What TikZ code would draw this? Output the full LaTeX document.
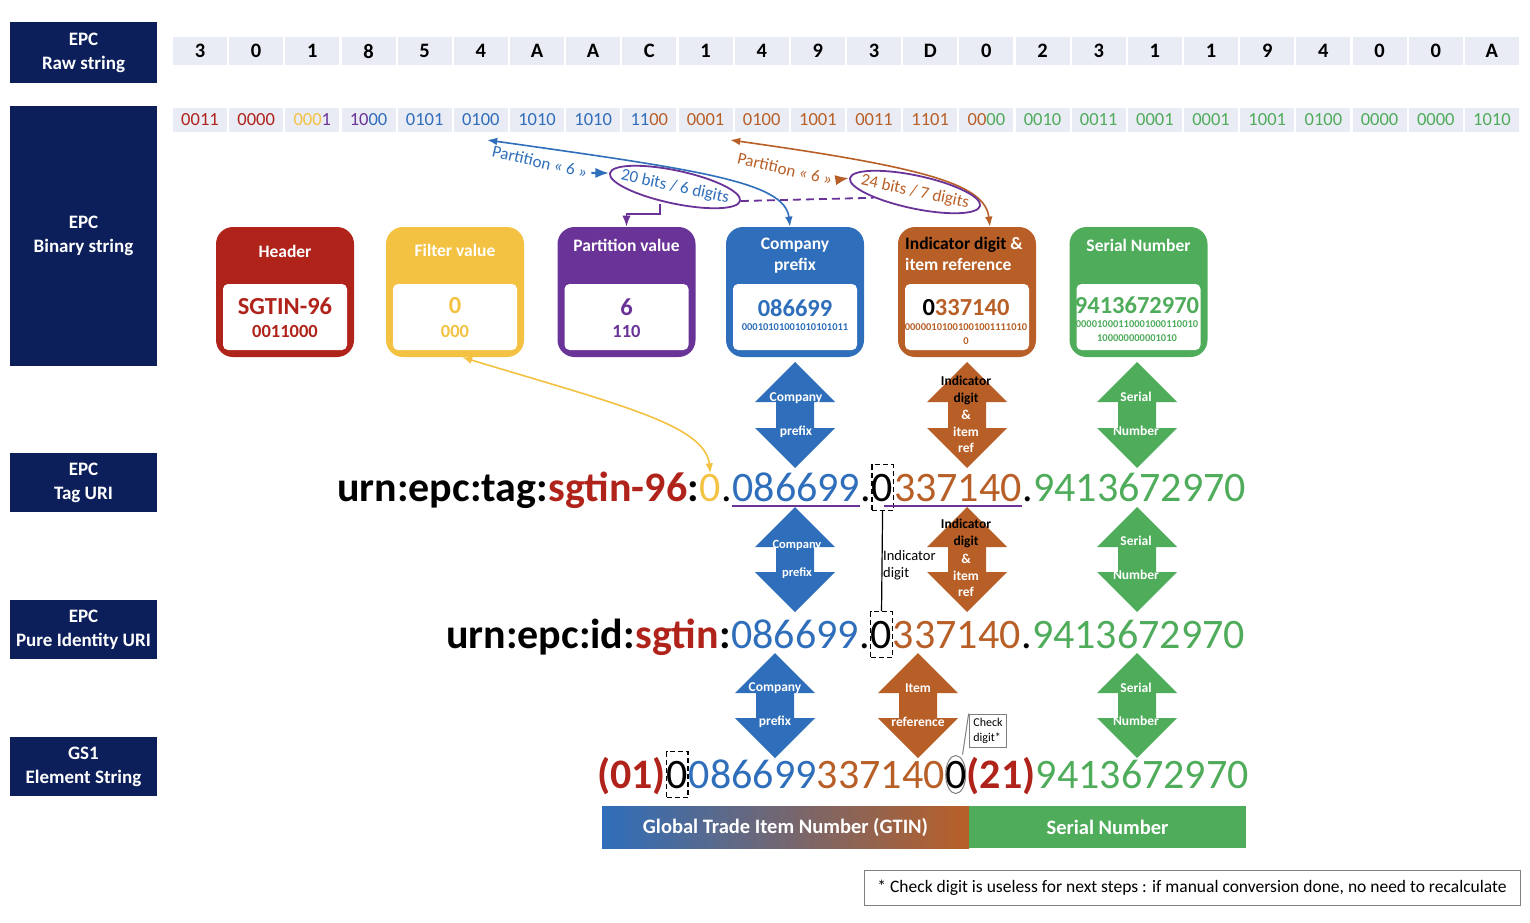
\documentclass[tikz,border=0pt]{standalone}
\usepackage{fontspec}
\setmainfont{Carlito}
\usepackage{xcolor}
\usepackage{tikz}
\usetikzlibrary{arrows.meta,shapes.geometric,positioning}

\definecolor{navy}{HTML}{0C1F5B}
\definecolor{cellgray}{HTML}{E9EBF5}
\definecolor{hred}{HTML}{B0231A}
\definecolor{hyel}{HTML}{F4C242}
\definecolor{hpur}{HTML}{6A3398}
\definecolor{hblu}{HTML}{2F6EBA}
\definecolor{hora}{HTML}{B85F27}
\definecolor{hgrn}{HTML}{4FAC5B}
\definecolor{hmid}{HTML}{8E6890}

\newcommand{\fs}[2]{\fontsize{#1}{#2}\selectfont}
\newcommand{\hR}[1]{\textcolor{hred}{#1}}
\newcommand{\hY}[1]{\textcolor{hyel}{#1}}
\newcommand{\hP}[1]{\textcolor{hpur}{#1}}
\newcommand{\hB}[1]{\textcolor{hblu}{#1}}
\newcommand{\hO}[1]{\textcolor{hora}{#1}}
\newcommand{\hG}[1]{\textcolor{hgrn}{#1}}
% up-down block arrow: centre x, top y, bottom y, colour
\newcommand{\updown}[4]{\fill[#4] (#1,#2) -- ++(40,40) -- ++(-21,0) -- (#1+19,#3-40) -- ++(21,0) -- (#1,#3) -- ++(-40,-40) -- ++(21,0) -- (#1-19,#2+40) -- ++(-21,0) -- cycle;}

\begin{document}
\begin{tikzpicture}[x=1pt,y=-1pt,
	lab/.style={fill=navy,text=white,font=\bfseries\fs{19}{24},align=center,minimum width=147,inner sep=0},
	rawcell/.style={fill=cellgray,minimum width=54,minimum height=28,inner sep=0,font=\bfseries\fs{20.5}{20}},
	bincell/.style={fill=cellgray,minimum width=54,minimum height=24,inner sep=0,font=\fs{18.5}{18}},
	card/.style={fill=#1,rounded corners=17,minimum width=138,minimum height=130,inner sep=0},
	inbox/.style={fill=white,rounded corners=5,minimum width=124,minimum height=66,inner sep=0},
	ctitle/.style={text=white,font=\bfseries\fs{17.5}{21},align=center,inner sep=0},
	bigval/.style={font=\bfseries\fs{24.5}{24},inner sep=0},
	binval/.style={font=\bfseries\fs{18.5}{18},inner sep=0},
	tinyval/.style={font=\bfseries\fs{10.5}{14},align=center,inner sep=0},
	seg/.style={anchor=base west,inner sep=0,font=\fs{42}{42}},
	segb/.style={seg,font=\bfseries\fs{42}{42}},
	dbox/.style={draw,dash pattern=on 5pt off 3pt,line width=1.2,inner ysep=9},
	arrtxt/.style={text=white,font=\bfseries\fs{13.5}{16.5},align=center,inner sep=0},
	ellnote/.style={ellipse,draw=hpur,line width=1.8,rotate=-12,font=\fs{17}{16},inner xsep=-8,inner ysep=0,minimum height=33},
	ptxt/.style={font=\fs{17}{16},rotate=-13,inner sep=0}]
	\useasboundingbox (0,0) rectangle (1530,922);
	% row labels
	\node[lab,minimum height=61] (lraw) at (83.5,52.5) {EPC\\Raw string};
	\node[lab,minimum height=260] (lbin) at (83.5,236) {EPC\\Binary string};
	\node[lab,minimum height=59] (ltag) at (83.5,482.5) {EPC\\Tag URI};
	\node[lab,minimum height=59] (lpure) at (83.5,629.5) {EPC\\Pure Identity URI};
	\node[lab,minimum height=59] (lgs) at (83.5,766.5) {GS1\\Element String};
	% raw string
	\foreach \c [count=\i from 0] in {3,0,1,8,5,4,A,A,C,1,4,9,3,D,0,2,3,1,1,9,4,0,0,A}
	\node[rawcell] (r\i) at (200+56.17*\i,51) {\c};
	% binary string
	\foreach \b [count=\i from 0] in {{\hR{0011}},{\hR{0000}},{\hY{000}\hP{1}},{\hP{10}\hB{00}},{\hB{0101}},{\hB{0100}},{\hB{1010}},{\hB{1010}},{\hB{11}\hO{00}},{\hO{0001}},{\hO{0100}},{\hO{1001}},{\hO{0011}},{\hO{1101}},{\hO{00}\hG{00}},{\hG{0010}},{\hG{0011}},{\hG{0001}},{\hG{0001}},{\hG{1001}},{\hG{0100}},{\hG{0000}},{\hG{0000}},{\hG{1010}}}
	\node[bincell] (b\i) at (200+56.17*\i,120) {\b};
	% cards
	\foreach \n/\cx/\col in {hd/285/hred,fv/455/hyel,pv/626.5/hpur,cp/795/hblu,ir/967/hora,sn/1138.5/hgrn}{
		\node[card=\col] (\n) at (\cx,292) {};
		\node[inbox] (\n-in) at (\cx,317) {};
	}
	\node[ctitle] (hd-t) at (285,251) {Header};
	\node[ctitle] (fv-t) at (455,250) {Filter value};
	\node[ctitle] (pv-t) at (626.5,245) {Partition value};
	\node[ctitle] (cp-t) at (795,255.5) {Company\\prefix};
	\node[ctitle,align=left,anchor=west] (ir-t) at (905,254) {\textcolor{black}{Indicator digit} \&\\item reference};
	\node[ctitle] (sn-t) at (1138.5,245) {Serial Number};
	\node[bigval,text=hred] (hd-v) at (285,306) {SGTIN-96};
	\node[binval,text=hred] (hd-b) at (285,331) {0011000};
	\node[bigval,text=hyel] (fv-v) at (455,306) {0};
	\node[binval,text=hyel] (fv-b) at (455,331) {000};
	\node[bigval,text=hpur] (pv-v) at (626.5,307) {6};
	\node[binval,text=hpur] (pv-b) at (626.5,331) {110};
	\node[bigval,text=hblu] (cp-v) at (795,308) {086699};
	\node[tinyval,text=hblu] (cp-b) at (795,327) {00010101001010101011};
	\node[bigval,text=hora] (ir-v) at (966,308) {\textcolor{black}{0}337140};
	\node[tinyval,text=hora] (ir-b) at (966,334) {00000101001001001111010\\0};
	\node[bigval,text=hgrn] (sn-v) at (1137,305) {9413672970};
	\node[tinyval,text=hgrn] (sn-b) at (1137,331.5) {00001000110001000110010\\100000000001010};
	% partition notes
	\coordinate (cpfrom) at (487,140);
	\coordinate (irfrom) at (730,140);
	\draw[hblu,line width=1.6,{Latex}-{Latex}] (cpfrom) .. controls (700,170) and (785,182) .. ([xshift=-5]cp.north);
	\draw[hora,line width=1.6,{Latex}-{Latex}] (irfrom) .. controls (930,168) and (985,185) .. ([xshift=23]ir.north);
	\node[ellnote,text=hblu] (e1) at (675,187) {20 bits / 6 digits};
	\node[ellnote,text=hora] (e2) at (915,192) {24 bits / 7 digits};
	\node[ptxt,text=hblu] (p1) at (540,162) {Partition « 6 »};
	\node[ptxt,text=hora] (p2) at (785,169) {Partition « 6 »};
	\draw[hblu,line width=2.4,-{Latex}] ([xshift=4]p1.east) -- (e1.west);
	\draw[hora,line width=2.4,-{Latex}] ([xshift=4]p2.east) -- (e2.west);
	\coordinate (pbend) at (660,214);
	\draw[hpur,line width=1.8,-{Latex}] (e1.south -| pbend) -- (pbend) -| (pv.north);
	\draw[hpur,line width=1.8,dash pattern=on 8pt off 5pt] (e1.east) -- (e2.200);
	% block arrows
	\updown{795}{362}{468}{hblu} \updown{967}{362}{468}{hora} \updown{1137}{362}{468}{hgrn}
	\updown{795}{507}{612}{hblu} \updown{967}{507}{612}{hora} \updown{1137}{507}{612}{hgrn}
	\updown{775}{653}{758}{hblu} \updown{918}{653}{758}{hora} \updown{1137}{653}{758}{hgrn}
	\node[arrtxt] (a1c) at (796,398) {Company};
	\node[arrtxt] (a1p) at (796,432) {prefix};
	\node[arrtxt,text=black] (a1i) at (966,390.5) {Indicator\\digit};
	\node[arrtxt] (a1r) at (966,431.5) {\&\\item\\ref};
	\node[arrtxt] (a1s) at (1136,397) {Serial};
	\node[arrtxt] (a1n) at (1136,431) {Number};
	\node[arrtxt,font=\bfseries\fs{12.5}{12}] (a2c) at (797,545) {Company};
	\node[arrtxt,font=\bfseries\fs{12.5}{12}] (a2p) at (797,573) {prefix};
	\node[arrtxt,text=black] (a2i) at (966,533.5) {Indicator\\digit};
	\node[arrtxt] (a2r) at (966,575.5) {\&\\item\\ref};
	\node[arrtxt] (a2s) at (1136,541) {Serial};
	\node[arrtxt] (a2n) at (1136,575) {Number};
	\node[arrtxt] (a3c) at (775,688) {Company};
	\node[arrtxt] (a3p) at (775,722) {prefix};
	\node[arrtxt] (a3i) at (918,688) {Item};
	\node[arrtxt] (a3r) at (918,722) {reference};
	\node[arrtxt] (a3s) at (1136,688) {Serial};
	\node[arrtxt] (a3n) at (1136,721) {Number};
	% tag URI
	\node[segb] (t1) at (337,501) {urn:epc:tag:};
	\node[segb,text=hred] (t2) at (t1.base east) {sgtin-96};
	\node[segb] (t3) at (t2.base east) {:};
	\node[seg,text=hyel] (t4) at (t3.base east) {0};
	\node[seg] (t5) at (t4.base east) {.};
	\node[seg,text=hblu] (tcp) at (t5.base east) {086699};
	\node[seg] (t6) at (tcp.base east) {.};
	\node[seg,dbox] (tid) at (t6.base east) {0};
	\node[seg,text=hora] (tir) at (tid.base east) {337140};
	\node[seg] (t7) at (tir.base east) {.};
	\node[seg,text=hgrn] (tsn) at (t7.base east) {9413672970};
	\draw[hpur,line width=1.6] ([yshift=-5]tcp.base west) -- ([yshift=-5]tcp.base east);
	\draw[hpur,line width=1.6] ([xshift=-10,yshift=-5]tir.base west) -- ([yshift=-5]tir.base east);
	\draw[hyel,line width=1.6,{Latex}-{Latex}] ([xshift=7]fv.south) .. controls (620,405) and (705,425) .. (t4.north);
	% pure identity URI
	\node[segb] (p1) at (446,648) {urn:epc:id:};
	\node[segb,text=hred] (p2) at (p1.base east) {sgtin};
	\node[segb] (p3) at (p2.base east) {:};
	\node[seg,text=hblu] (pcp) at (p3.base east) {086699};
	\node[seg] (p4) at (pcp.base east) {.};
	\node[seg,dbox] (pid) at (p4.base east) {0};
	\node[seg,text=hora] (pir) at (pid.base east) {337140};
	\node[seg] (p5) at (pir.base east) {.};
	\node[seg,text=hgrn] (psn) at (p5.base east) {9413672970};
	\draw[line width=1.2] (tid.south) -- (pid.north);
	\node[font=\fs{14.5}{17},align=left,anchor=west,inner sep=0] (idtxt) at (883,565.5) {Indicator\\digit};
	% GS1 element string
	\node[segb,text=hred] (g1) at (597,788) {(01)};
	\node[seg,dbox] (gid) at (g1.base east) {0};
	\node[seg,text=hblu] (gcp) at (gid.base east) {086699};
	\node[seg,text=hora] (gir) at (gcp.base east) {337140};
	\node[seg] (gck) at (gir.base east) {0};
	\node[segb,text=hred] (g2) at (gck.base east) {(21)};
	\node[seg,text=hgrn] (gsn) at (g2.base east) {9413672970};
	\draw[gray,line width=1] (gck.center) ellipse [x radius=10pt,y radius=19pt];
	\node[draw=gray,line width=1.5,font=\fs{12}{15},align=left,inner sep=4] (chk) at (988,731) {Check\\digit*};
	\draw[gray,line width=1] ([xshift=-4,yshift=6]gck.north east) -- (chk.north west);
	% bottom bar
	\node[left color=hblu,middle color=hmid,right color=hora,minimum width=367,minimum height=42,text=white,font=\bfseries\fs{20.5}{20}] (gtin) at (785.5,827) {Global Trade Item Number (GTIN)};
	\node[fill=hgrn,minimum width=277,minimum height=42,text=white,font=\bfseries\fs{20.5}{20}] (snbar) at (1107.5,827) {Serial Number};
	\node[draw=gray,minimum width=656,minimum height=35,font=\fs{17.5}{17}] (note) at (1192,887.5) {* Check digit is useless for next steps : if manual conversion done, no need to recalculate};
\end{tikzpicture}
\end{document}
